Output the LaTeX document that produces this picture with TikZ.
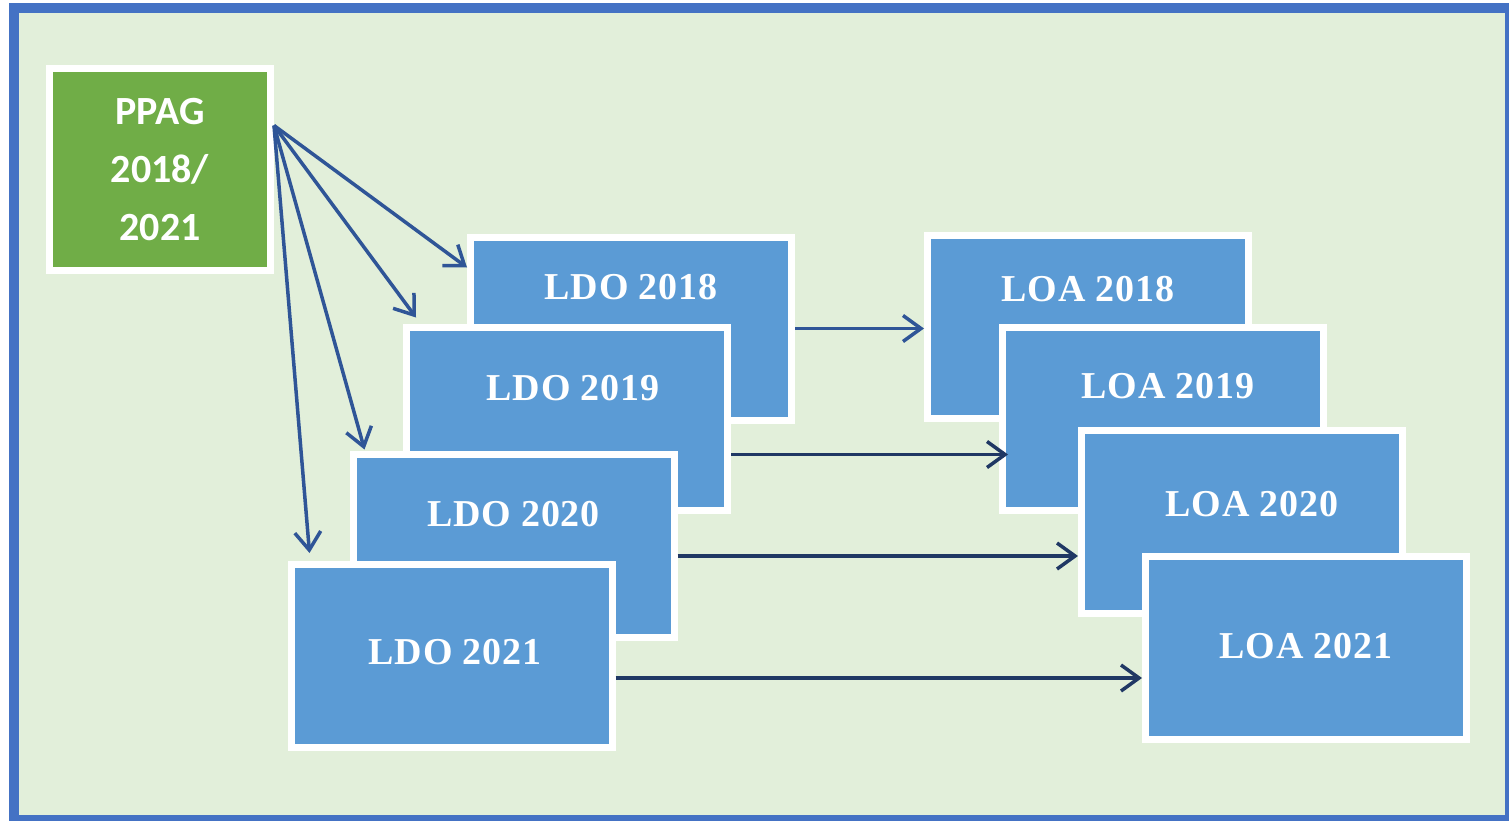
\documentclass[tikz,border=0pt]{standalone}
\usepackage{fontspec}
\setmainfont{Liberation Serif}
\newfontfamily\calfont{Carlito}
\usetikzlibrary{arrows.meta}
\definecolor{frameblue}{HTML}{4472C4}
\definecolor{bggreen}{HTML}{E2EFDA}
\definecolor{boxblue}{HTML}{5B9BD5}
\definecolor{boxgreen}{HTML}{70AD47}
\definecolor{arrblue}{HTML}{2F5597}
\definecolor{arrdark}{HTML}{203864}
\tikzset{
  box/.style={draw=white, line width=7pt, fill=boxblue, text=white, inner sep=0pt,
    minimum width=321pt, minimum height=183pt, text height=25pt,
    font=\bfseries\fontsize{38}{44}\selectfont\addfontfeatures{LetterSpace=2}},
  ppagbox/.style={draw=white, line width=7pt, fill=boxgreen, text=white, inner sep=0pt,
    minimum width=221pt, minimum height=202pt, align=center,
    font=\calfont\bfseries\fontsize{40}{58}\selectfont},
  arr/.style={draw=arrblue, line width=3.5pt, -{Straight Barb[length=18pt,width=26pt]}},
  arrd/.style={draw=arrdark, line width=3.5pt, -{Straight Barb[length=18pt,width=26pt]}}
}
\begin{document}
\begin{tikzpicture}[x=1pt,y=-1pt]
\useasboundingbox (0,0) rectangle (1509,821);
\fill[frameblue] (9,3) rectangle (1509,821);
\fill[bggreen] (19,13) rectangle (1505,815);

\node[ppagbox] (ppag) at (160,169.5) {PPAG\\2018/\\2021};

\node[box, text depth=83pt] (ldo18) at (631,328.5) {LDO 2018};
\node[box, text depth=61pt] (ldo19) at (567,418.5) {\hspace*{12pt}LDO 2019};
\node[box, text depth=63pt] (ldo20) at (513.5,545.5) {LDO 2020};
\node[box, text depth=8pt] (ldo21) at (451.5,656) {\hspace*{7pt}LDO 2021};

\node[box, text depth=75pt] (loa18) at (1088,326.5) {LOA 2018};
\node[box, text depth=66pt] (loa19) at (1163,419) {\hspace*{10pt}LOA 2019};
\node[box, text depth=36pt] (loa20) at (1242,522) {\hspace*{20pt}LOA 2020};
\node[box, text depth=4pt] (loa21) at (1306,648) {LOA 2021};

\draw[arr] ([yshift=44pt]ppag.east) -- ([yshift=61pt]ldo18.west);
\draw[arr] ([yshift=44pt]ppag.east) -- ([xshift=13pt,yshift=6pt]ldo19.north west);
\draw[arr] ([yshift=44pt]ppag.east) -- ([xshift=15pt,yshift=1pt]ldo20.north west);
\draw[arr] ([yshift=44pt]ppag.east) -- ([xshift=22pt,yshift=8pt]ldo21.north west);

\draw[arr] (ldo18.east) -- (ldo18.east -| loa18.west);
\draw[arrd, shorten >=-9pt] ([yshift=-36pt]ldo19.east) coordinate (a2) -- (a2 -| loa19.west);
\draw[arrd] ([yshift=-10.5pt]ldo20.east) coordinate (a3) -- (a3 -| loa20.west);
\draw[arrd] ([yshift=-22pt]ldo21.east) coordinate (a4) -- (a4 -| loa21.west);
\end{tikzpicture}
\end{document}
